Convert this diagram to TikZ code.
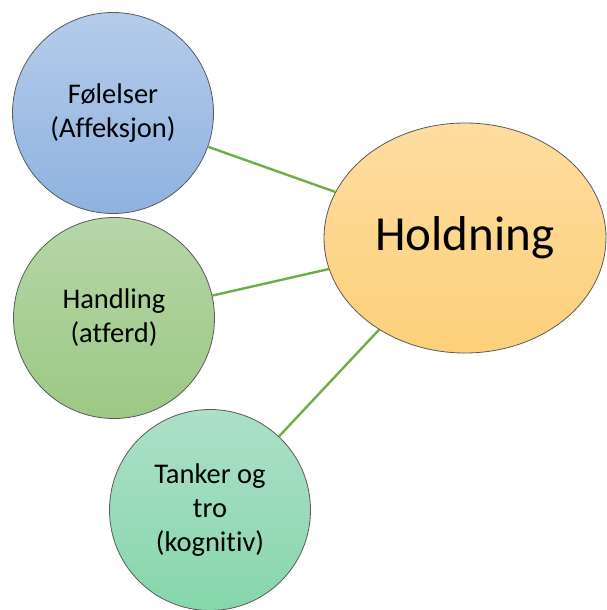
\documentclass[tikz,border=0pt]{standalone}
\usepackage{fontspec}
\setmainfont{Carlito}[Ligatures={NoCommon}]
\usetikzlibrary{shapes.geometric}

\definecolor{blueTop}{HTML}{B5CCEA}
\definecolor{blueBot}{HTML}{8EB2E0}
\definecolor{greenTop}{HTML}{B6D6A8}
\definecolor{greenBot}{HTML}{9CC884}
\definecolor{tealTop}{HTML}{ACE0C8}
\definecolor{tealBot}{HTML}{86D6AB}
\definecolor{goldTop}{HTML}{FEDDA0}
\definecolor{goldBot}{HTML}{FDD07A}
\definecolor{rimGray}{HTML}{5A5A5A}
\definecolor{linkGreen}{HTML}{70AD47}

\tikzset{
  bubble/.style={circle, draw=rimGray, line width=0.8pt, minimum size=201pt,
    inner sep=0pt, align=center, font=\fontsize{28.5}{34}\selectfont},
  hub/.style={ellipse, draw=rimGray, line width=0.8pt, minimum width=282pt,
    minimum height=230pt, inner sep=0pt, font=\fontsize{49}{56}\selectfont,
    top color=goldTop, bottom color=goldBot},
  link/.style={draw=linkGreen, line width=2.4pt}
}

\begin{document}
\begin{tikzpicture}[x=1pt, y=-1pt]
  \useasboundingbox (0,0) rectangle (606,610);

  \node[bubble, top color=blueTop, bottom color=blueBot] (feel) at (113,113)
    {Følelser\\(Affeksjon)};
  \node[bubble, top color=greenTop, bottom color=greenBot] (act) at (114,318)
    {Handling\\(atferd)};
  \node[bubble, top color=tealTop, bottom color=tealBot] (think) at (210,510)
    {Tanker og\\tro\\(kognitiv)};
  \node[hub] (attitude) at (465,238) {Holdning};

  \draw[link] (feel) -- (attitude);
  \draw[link] (act) -- (attitude);
  \draw[link] (think) -- (attitude);
\end{tikzpicture}
\end{document}
